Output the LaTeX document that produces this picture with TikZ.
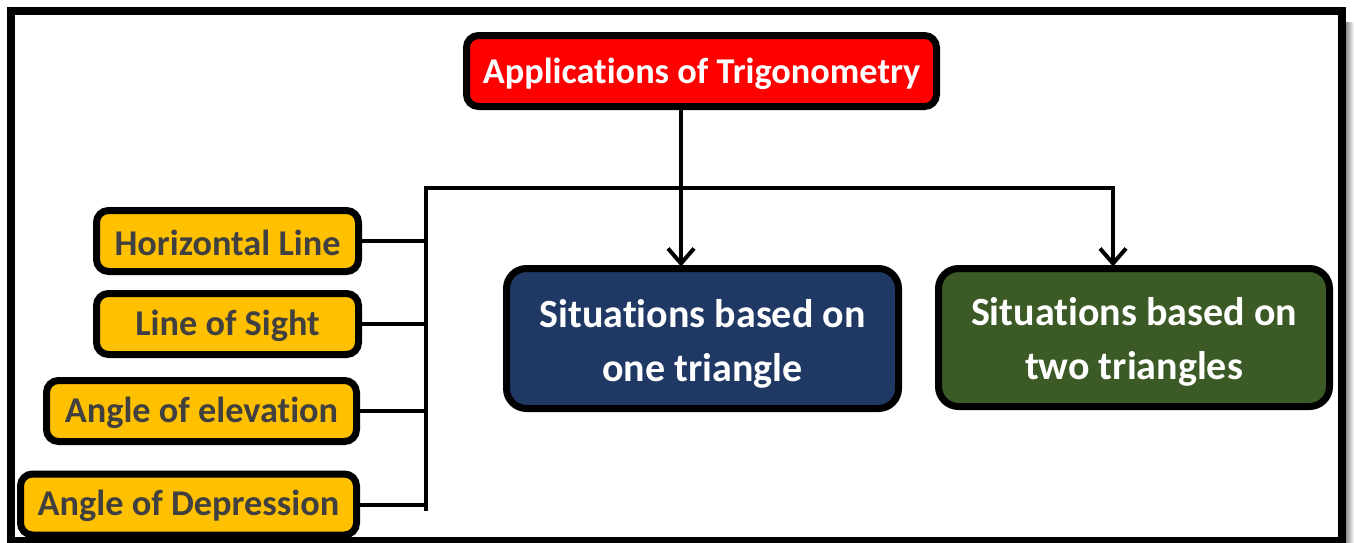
\documentclass[tikz,border=0pt]{standalone}
\usepackage{fontspec}
\setmainfont{Carlito}[Ligatures={NoCommon}]
\usetikzlibrary{arrows.meta}
\definecolor{topred}{HTML}{FF0000}
\definecolor{ybox}{HTML}{FFC000}
\definecolor{bbox}{HTML}{1F3864}
\definecolor{gbox}{HTML}{3B5A25}
\definecolor{ytext}{HTML}{404040}
\newcommand{\dropby}[2]{\raisebox{-#1}[\height][\depth]{#2}}
\tikzset{
  box/.style={draw=black, line width=7pt, rounded corners=12pt, inner sep=0pt, outer sep=0pt, align=center, font=\fontsize{36.3}{44}\selectfont\bfseries},
  ynode/.style={box, fill=ybox, text=ytext, minimum height=61pt},
  bignode/.style={box, text=white, rounded corners=20pt, font=\fontsize{40}{54}\selectfont\bfseries},
  conn/.style={draw=black, line width=4pt},
  arr/.style={conn, -{Straight Barb[length=15pt,width=26pt,line width=4pt]}}
}
\begin{document}
\begin{tikzpicture}[x=1pt,y=1pt]
\useasboundingbox (0,0) rectangle (1354,-542);
\fill[white] (0,0) rectangle (1354,-542);
\shade[left color=black!55, right color=white] (1344,-22) rectangle (1354,-542);
\draw[line width=8pt] (10.5,-11) rectangle (1341.5,-541);

\node[box, fill=topred, text=white, minimum width=470pt, minimum height=71pt] (top) at (701.5,-71) {\dropby{3pt}{Applications of Trigonometry}};

\node[ynode, minimum width=262pt] (hl) at (227.5,-241) {\dropby{1.5pt}{Horizontal Line}};
\node[ynode, minimum width=262pt] (los) at (227.5,-324) {\dropby{1.5pt}{Line of Sight}};
\node[ynode, minimum width=310pt] (aoe) at (201.5,-411) {\dropby{1.5pt}{Angle of elevation}};
\node[ynode, minimum width=336pt] (aod) at (188.5,-504.5) {\dropby{1.5pt}{Angle of Depression}};

\node[bignode, fill=bbox, minimum width=392pt, minimum height=140pt] (blue) at (702.5,-338.5) {\dropby{5pt}{Situations based on}\\\dropby{5pt}{one triangle}};
\node[bignode, fill=gbox, minimum width=391pt, minimum height=138pt] (green) at (1134,-337.5) {\dropby{4pt}{Situations based on}\\\dropby{4pt}{two triangles}};

\coordinate (j) at (681,-188);
\coordinate (l) at (426,-188);
\coordinate (r) at (1113,-188);
\coordinate (lb) at (426,-511);

\draw[conn] (top.south -| j) -- (j);
\draw[arr] (j) -- ([yshift=2pt]blue.north -| j);
\draw[arr] (l) -- (r) -- ([yshift=2pt]green.north -| r);
\draw[conn] ([yshift=2pt]l) -- (lb);
\draw[conn] (hl.east) -- (hl.east -| l);
\draw[conn] (los.east) -- (los.east -| l);
\draw[conn] (aoe.east) -- (aoe.east -| l);
\draw[conn] (aod.east) -- (aod.east -| l);
\end{tikzpicture}
\end{document}
